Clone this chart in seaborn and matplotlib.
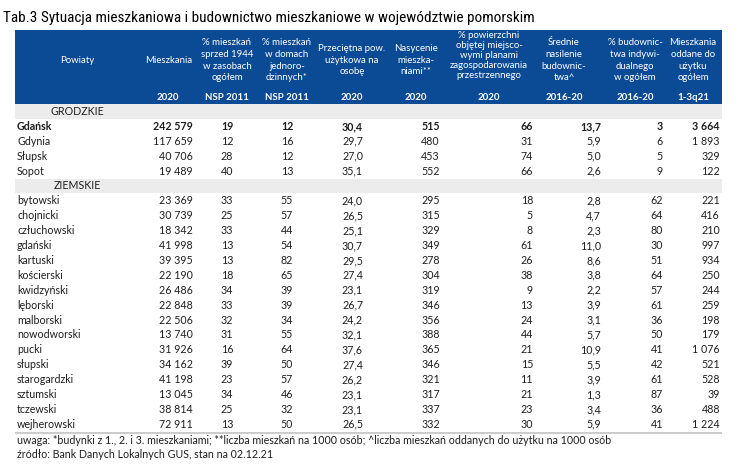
import numpy as np
import matplotlib
matplotlib.use('Agg')
import matplotlib.pyplot as plt
from matplotlib.colors import ListedColormap
from matplotlib.patches import Rectangle
import seaborn as sns

# --- data ---
grodzkie = ['Gdańsk', 'Gdynia', 'Słupsk', 'Sopot']
ziemskie = ['bytowski', 'chojnicki', 'człuchowski', 'gdański', 'kartuski', 'kościerski',
            'kwidzyński', 'lęborski', 'malborski', 'nowodworski', 'pucki', 'słupski',
            'starogardzki', 'sztumski', 'tczewski', 'wejherowski']
mieszkania = [242579, 117659, 40706, 19489, 23369, 30739, 18342, 41998, 39395, 22190,
              26486, 22848, 22506, 13740, 31926, 34162, 41198, 13045, 38814, 72911]
sprzed_1944 = [19, 12, 28, 40, 33, 25, 33, 13, 13, 18, 34, 33, 32, 31, 16, 39, 23, 34, 25, 13]
jednorodzinne = [12, 16, 12, 13, 55, 57, 44, 54, 82, 65, 39, 39, 34, 55, 64, 50, 57, 46, 32, 50]
pow_na_osobe = [30.4, 29.7, 27.0, 35.1, 24.0, 26.5, 25.1, 30.7, 29.5, 27.4, 23.1, 26.7, 24.2,
                32.1, 37.6, 27.4, 26.2, 23.1, 23.1, 26.5]
nasycenie = [515, 480, 453, 552, 295, 315, 329, 349, 278, 304, 319, 346, 356, 388, 365, 346,
             321, 317, 337, 332]
plany = [66, 31, 74, 66, 18, 5, 8, 61, 26, 38, 9, 13, 24, 44, 21, 15, 11, 21, 23, 30]
nasilenie = [13.7, 5.9, 5.0, 2.6, 2.8, 4.7, 2.3, 11.0, 8.6, 3.8, 2.2, 3.9, 3.1, 5.7, 10.9, 5.5,
             3.9, 1.3, 3.4, 5.9]
indywidualne = [3, 6, 5, 9, 62, 64, 80, 30, 51, 64, 57, 61, 36, 50, 41, 42, 61, 87, 36, 41]
oddane = [3664, 1893, 329, 122, 221, 416, 210, 997, 934, 250, 244, 259, 198, 179, 1076, 521,
          528, 39, 488, 1224]

headers = [['Powiaty'],
           ['Mieszkania'],
           ['% mieszkań', 'sprzed 1944', 'w zasobach', 'ogółem'],
           ['% mieszkań', 'w domach', 'jednoro-', 'dzinnych*'],
           ['Przeciętna pow.', 'użytkowa na', 'osobę'],
           ['Nasycenie', 'mieszka-', 'niami**'],
           ['% powierzchni', 'objętej miejsco-', 'wymi planami', 'zagospodarowania', 'przestrzennego'],
           ['Średnie', 'nasilenie', 'budownic-', 'twa^'],
           ['% budownic-', 'twa indywi-', 'dualnego', 'w ogółem'],
           ['Mieszkania', 'oddane do', 'użytku', 'ogółem']]
okresy = ['', '2020', 'NSP 2011', 'NSP 2011', '2020', '2020', '2020', '2016-20', '2016-20', '1-3q21']

title = 'Tab.3 Sytuacja mieszkaniowa i budownictwo mieszkaniowe w województwie pomorskim'
uwaga = ('uwaga: *budynki z 1., 2. i 3. mieszkaniami; **liczba mieszkań na 1000 osób; '
         '^liczba mieszkań oddanych do użytku na 1000 osób')
zrodlo = 'źródło: Bank Danych Lokalnych GUS, stan na 02.12.21'

# --- style ---
sns.set_theme(style='white')
plt.rcParams['font.family'] = ['Lato', 'DejaVu Sans']
BLUE = '#0b4a94'
GREY = '#ececec'
TXT = '#1e1e1e'
FS = 7.7

W, H = 745, 467
fig = plt.figure(figsize=(W / 100, H / 100), dpi=100)
fig.patch.set_facecolor('white')

# body rows: section bands drawn as a one-column heatmap
ROW_TOP, ROW_H = 104, 14.9
labels = ['GRODZKIE'] + grodzkie + ['ZIEMSKIE'] + ziemskie
band = np.array([[1.0 if l.isupper() else 0.0] for l in labels])
n_rows = len(labels)
x0, x1 = 15, 722
body = fig.add_axes([x0 / W, 1 - (ROW_TOP + n_rows * ROW_H) / H, (x1 - x0) / W, n_rows * ROW_H / H])
sns.heatmap(band, ax=body, cmap=ListedColormap(['white', GREY]), cbar=False,
            xticklabels=False, yticklabels=False, linewidths=0)
body.axis('off')

# overlay in pixel coordinates
ax = fig.add_axes([0, 0, 1, 1])
ax.set_xlim(0, W)
ax.set_ylim(H, 0)
ax.axis('off')
ax.patch.set_alpha(0)

ax.text(3, 18, title, fontsize=11, color='black', va='center', ha='left',
        family=['Liberation Sans Narrow', 'Roboto Condensed', 'DejaVu Sans'])

# header
ax.add_patch(Rectangle((x0, 30), x1 - x0, 74, color=BLUE, lw=0))
head_x = [(77, 'center'), (192, 'right'), (227, 'center'), (287, 'center'), (352, 'center'),
          (416, 'center'), (489, 'center'), (564, 'center'), (635, 'center'), (693, 'center')]
year_x = [77, 168, 227, 287, 352, 416, 489, 564, 635, 693]
for (hx, ha), lines in zip(head_x, headers):
    step = 10.0 if len(lines) == 5 else 11.7
    yc = 55 if len(lines) == 5 else 60.3
    for i, line in enumerate(lines):
        y = yc + (i - (len(lines) - 1) / 2) * step
        ax.text(hx, y, line, fontsize=6.9, color='white', ha=ha, va='center')
for yx, t in zip(year_x, okresy):
    ax.text(yx, 97, t, fontsize=7, color='white', ha='center', va='center', fontweight='bold')


def fmt_int(v):
    return f'{v:,}'.replace(',', ' ')


def fmt_dec(v):
    return f'{v:.1f}'.replace('.', ',')


columns = [(mieszkania, fmt_int, 193, 'right'),
           (sprzed_1944, str, 227, 'center'),
           (jednorodzinne, str, 287, 'center'),
           (pow_na_osobe, fmt_dec, 363, 'right'),
           (nasycenie, str, 440, 'right'),
           (plany, str, 533, 'right'),
           (nasilenie, fmt_dec, 601, 'right'),
           (indywidualne, str, 663, 'right'),
           (oddane, fmt_int, 720, 'right')]

k = 0
for r, lab in enumerate(labels):
    y = ROW_TOP + (r + 0.5) * ROW_H
    if lab.isupper():
        ax.text(77, y, lab, fontsize=FS, color=TXT, ha='center', va='center')
        continue
    weight = 'bold' if lab == 'Gdańsk' else 'normal'
    ax.text(17, y, lab, fontsize=FS, color=TXT, ha='left', va='center', fontweight=weight)
    for vals, f, cx, ha in columns:
        ax.text(cx, y, f(vals[k]), fontsize=FS, color=TXT, ha=ha, va='center', fontweight=weight)
    k += 1

# bottom rule and notes
ax.add_patch(Rectangle((x0, ROW_TOP + n_rows * ROW_H), x1 - x0, 2.5, color='#cccccc', lw=0))
ax.text(17, 440, uwaga, fontsize=FS, color=TXT, ha='left', va='center')
ax.text(17, 455, zrodlo, fontsize=FS, color=TXT, ha='left', va='center')

fig.savefig('out.png', dpi=100, facecolor='white')
